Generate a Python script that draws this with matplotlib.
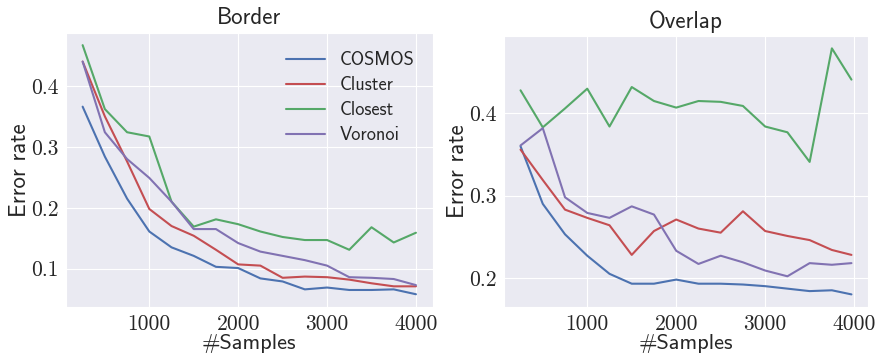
import matplotlib
matplotlib.use("Agg")
import matplotlib.pyplot as plt
import seaborn as sns
from matplotlib.ticker import MultipleLocator

samples = [250, 500, 750, 1000, 1250, 1500, 1750, 2000,
           2250, 2500, 2750, 3000, 3250, 3500, 3750, 4000]
samples_overlap = samples[:-1] + [3970]

border = {
    "COSMOS": [0.366, 0.284, 0.215, 0.161, 0.135, 0.121, 0.103, 0.101,
               0.084, 0.079, 0.066, 0.069, 0.065, 0.065, 0.066, 0.058],
    "Cluster": [0.440, 0.350, 0.276, 0.198, 0.170, 0.154, 0.131, 0.107,
                0.105, 0.085, 0.087, 0.086, 0.082, 0.076, 0.071, 0.071],
    "Closest": [0.467, 0.362, 0.324, 0.317, 0.210, 0.169, 0.181, 0.173,
                0.161, 0.152, 0.147, 0.147, 0.131, 0.168, 0.143, 0.159],
    "Voronoi": [0.440, 0.324, 0.280, 0.249, 0.210, 0.165, 0.165, 0.142,
                0.128, 0.121, 0.114, 0.105, 0.086, 0.085, 0.083, 0.073],
}
overlap = {
    "COSMOS": [0.360, 0.290, 0.253, 0.227, 0.205, 0.193, 0.193, 0.198,
               0.193, 0.193, 0.192, 0.190, 0.187, 0.184, 0.185, 0.180],
    "Cluster": [0.356, 0.319, 0.283, 0.273, 0.264, 0.228, 0.257, 0.271,
                0.260, 0.255, 0.281, 0.257, 0.251, 0.246, 0.234, 0.228],
    "Closest": [0.428, 0.383, 0.406, 0.430, 0.384, 0.432, 0.415, 0.407,
                0.415, 0.414, 0.409, 0.384, 0.377, 0.341, 0.479, 0.441],
    "Voronoi": [0.361, 0.382, 0.298, 0.279, 0.273, 0.287, 0.277, 0.233,
                0.217, 0.227, 0.219, 0.209, 0.202, 0.218, 0.216, 0.218],
}
colors = {"COSMOS": "#4C72B0", "Cluster": "#C44E52",
          "Closest": "#55A868", "Voronoi": "#8172B2"}

sns.set_style("darkgrid")
plt.rcParams["font.family"] = ["cmss10", "DejaVu Sans"]
plt.rcParams["axes.unicode_minus"] = False

fig = plt.figure(figsize=(8.75, 3.58), dpi=100)
ax_b = fig.add_axes([0.0754, 0.1433, 0.419, 0.7654])
ax_o = fig.add_axes([0.576, 0.1433, 0.416, 0.756])

for ax, x, data, title in [(ax_b, samples, border, "Border"),
                           (ax_o, samples_overlap, overlap, "Overlap")]:
    for name, values in data.items():
        ax.plot(x, values, color=colors[name], lw=1.5, label=name)
    ax.set_title(title, fontsize=16.5, pad=6)
    ax.set_xlabel("#Samples", fontsize=16, labelpad=0)
    ax.set_ylabel("Error rate", fontsize=16.5, labelpad=0)
    ax.xaxis.set_major_locator(MultipleLocator(1000))
    ax.yaxis.set_major_locator(MultipleLocator(0.1))
    ax.tick_params(labelsize=15.5, pad=2)
    for lab in ax.get_xticklabels() + ax.get_yticklabels():
        lab.set_family("cmr10")

ax_b.set_xticks([1000, 2000, 3000, 4000])
ax_o.set_xticks([1000, 2000, 3000, 4000])
ax_b.legend(loc="upper right", frameon=False, fontsize=13.2, handlelength=2.1,
            labelspacing=0.38, borderaxespad=0.6)

fig.savefig("out.png", dpi=100)
